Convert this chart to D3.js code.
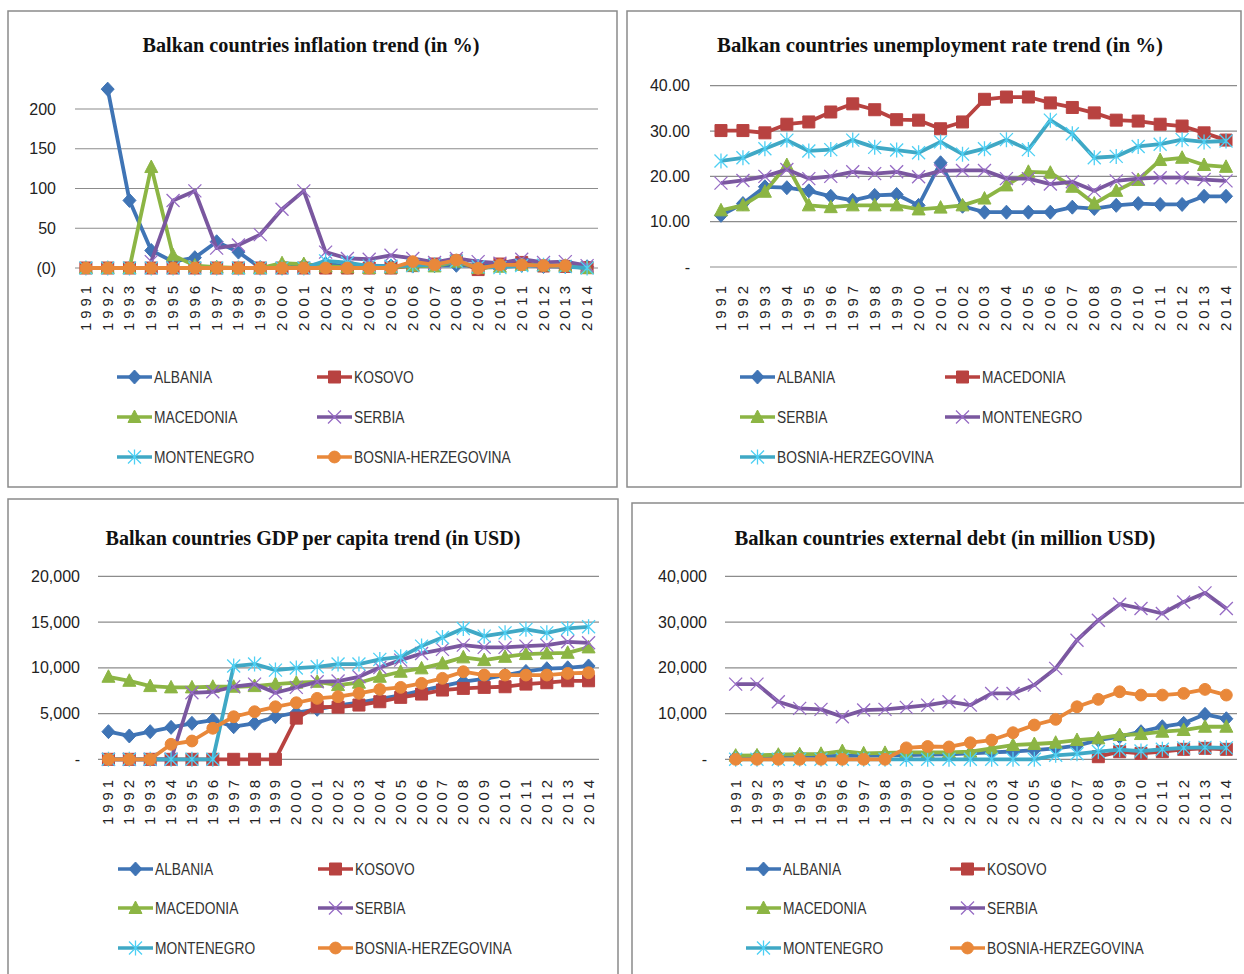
<!DOCTYPE html>
<html>
<head>
<meta charset="utf-8">
<script src="https://cdn.jsdelivr.net/npm/d3@7"></script>
<style>
  body { margin: 0; background: #fff; }
  svg text { font-family: "Liberation Sans", Arial, sans-serif; }
</style>
</head>
<body>
<svg id="chart" width="1244" height="974"></svg>
<script>
// Balkan countries: four small line charts

const years = ['1991','1992','1993','1994','1995','1996','1997','1998','1999','2000','2001','2002',
               '2003','2004','2005','2006','2007','2008','2009','2010','2011','2012','2013','2014'];

// Inflation (in %)
const inflAlbania    = [null,225,85,22,8,13,33,20,0.4,0.1,3.1,5.2,2.4,2.9,2.4,2.4,2.9,3.4,2.3,3.6,3.5,2.0,1.9,1.6];
const inflKosovo     = [0,0,0,0,0,0,0,0,0,0,0,0,0,0,0,3,5,9,-2,5,7,2.5,2,0.4];
const inflMacedonia  = [0,0,0,127,16,3,1,0,0,6,5,2,1,0,0.5,3,2,8,0,1.6,3.9,3.3,2.8,0];
const inflSerbia     = [null,null,null,8,85,97,25,29,42,74,97,20,12,11,16,12,7,12,8,6,11,7,8,3];
const inflMontenegro = [0,0,0,0,0,0,0,0,0,0,0,9,6.7,2.4,2.3,3,4.2,8.5,1.5,0.5,3.1,3.6,1.8,0];
const inflBosnia     = [0,0,0,0,0,0,0,0,0,0,0,0,0,0,0,8,4,10,-0.4,4,4,3,3,null];

// Unemployment rate (in %)
const unAlbania    = [11.4,14.0,17.7,17.5,16.8,15.6,14.7,15.8,16.0,13.6,23.0,13.4,12.1,12.1,12.1,12.1,13.2,12.9,13.6,14.0,13.8,13.8,15.6,15.6];
const unMacedonia  = [30.1,30.1,29.6,31.5,32.0,34.2,36.0,34.7,32.5,32.4,30.5,32.0,37.0,37.5,37.5,36.2,35.2,34.0,32.4,32.2,31.5,31.1,29.6,28.0];
const unSerbia     = [12.5,13.6,16.6,22.5,13.6,13.2,13.6,13.6,13.6,12.7,13.1,13.6,15.1,18.0,21.0,20.8,17.7,14.0,16.8,19.2,23.6,24.1,22.5,22.1];
const unMontenegro = [18.5,19.1,20.0,21.5,19.5,20.0,21.0,20.6,21.0,19.9,21.2,21.3,21.3,19.5,19.5,18.3,18.8,16.8,19.0,19.5,19.7,19.7,19.3,19.0];
const unBosnia     = [23.4,24.1,26.1,28.0,25.6,25.9,28.0,26.4,25.8,25.2,27.6,24.9,26.1,28.1,25.9,32.4,29.4,24.1,24.4,26.6,27.1,28.1,27.6,27.8];

// GDP per capita (in USD)
const gdpAlbania    = [3020,2550,3020,3490,3930,4290,3560,3930,4650,5090,5460,5900,6200,6600,7000,7500,8000,8500,8800,9200,9600,9900,10000,10200];
const gdpKosovo     = [0,0,0,0,0,0,0,0,0,4500,5740,5700,5930,6290,6770,7130,7570,7750,7860,7930,8220,8370,8580,8580];
const gdpMacedonia  = [9020,8580,8000,7860,7860,7930,7930,8000,8220,8370,8470,8110,8370,9020,9570,9940,10480,11140,10840,11200,11500,11570,11640,12230];
const gdpSerbia     = [0,0,0,0,7270,7380,7930,8220,7270,7860,8470,8550,9020,10040,10840,11570,12010,12480,12230,12230,12370,12480,12840,12730];
const gdpMontenegro = [0,0,0,0,0,0,10190,10410,9750,9970,10110,10410,10410,10920,11200,12370,13320,14300,13460,13820,14200,13820,14300,14480];
const gdpBosnia     = [0,0,0,1640,2000,3390,4650,5200,5740,6180,6660,6840,7210,7640,7860,8300,8850,9570,9210,9210,9210,9210,9390,9460];

// External debt (in million USD)
const debtAlbania    = [500,600,700,800,700,750,800,850,900,1000,1100,1300,1500,1700,2000,2400,3000,4210,4940,6030,7120,7860,9820,8860];
const debtKosovo     = [null,null,null,null,null,null,null,null,null,null,null,null,null,null,null,null,null,570,1660,1300,1660,2180,2400,2180];
const debtMacedonia  = [800,850,1000,1100,1200,1800,1300,1400,1500,1500,1500,1660,2400,3120,3340,3620,4210,4580,5300,5520,6030,6400,7120,7120];
const debtSerbia     = [16440,16440,12580,11130,10910,9300,10760,10910,11350,11850,12580,11850,14400,14400,16220,19870,26040,30410,33900,32960,31870,34400,36370,32960];
const debtMontenegro = [0,0,0,0,0,0,0,0,0,0,0,0,0,0,0,870,1200,1700,2100,1800,2200,2500,2600,2500];
const debtBosnia     = [0,0,0,0,0,0,0,0,2500,2800,2700,3620,4210,5810,7490,8730,11480,13100,14760,14040,14040,14400,15280,14040];

// Excel-like series styles, in series order
const styles = [
  {color: '#3f74b5', mark: 'diamond'},
  {color: '#b84240', mark: 'square'},
  {color: '#8cb544', mark: 'triangle'},
  {color: '#7a579f', mark: 'x'},
  {color: '#3fa8c5', mark: 'star'},
  {color: '#e9883a', mark: 'circle'}
];

const svg = d3.select('#chart');

function markerPath(type) {
  switch (type) {
    case 'diamond':  return 'M0,-7L6.5,0L0,7L-6.5,0Z';
    case 'square':   return 'M-6,-6H6V6H-6Z';
    case 'triangle': return 'M0,-7L6.5,5.5L-6.5,5.5Z';
    case 'x':        return 'M-6.5,-6.5L6.5,6.5M-6.5,6.5L6.5,-6.5';
    case 'star':     return 'M-6.5,-6.5L6.5,6.5M-6.5,6.5L6.5,-6.5M0,-7.5V7.5';
    default:         return d3.symbol(d3.symbolCircle, 110)();
  }
}

function drawMarker(g, st) {
  const open = st.mark === 'x' || st.mark === 'star';
  return g.append('path')
    .attr('d', markerPath(st.mark))
    .attr('fill', open ? 'none' : st.color)
    .attr('stroke', open ? d3.color(st.color).brighter(0.6) : st.color)
    .attr('stroke-width', open ? 1.3 : 1);
}

function drawPanel(p) {
  const g = svg.append('g');

  // frame
  g.append('rect')
    .attr('x', p.box[0]).attr('y', p.box[1])
    .attr('width', p.box[2]).attr('height', p.box[3])
    .attr('fill', 'none').attr('stroke', '#8a8a8a').attr('stroke-width', 1.5);

  // title
  g.append('text')
    .attr('x', p.title.x).attr('y', p.title.y)
    .attr('text-anchor', 'middle')
    .attr('textLength', p.title.w).attr('lengthAdjust', 'spacingAndGlyphs')
    .style('font-family', '"Liberation Serif", "Times New Roman", serif')
    .style('font-weight', 'bold').style('font-size', '22px')
    .attr('fill', '#111')
    .text(p.title.text);

  const x = d3.scalePoint().domain(years).range(p.xRange).padding(0.5);
  const y = d3.scaleLinear().domain([0, p.yMax]).range(p.yRange);

  // gridlines + y labels
  p.ticks.forEach(t => {
    g.append('line')
      .attr('x1', p.xRange[0]).attr('x2', p.xRange[1])
      .attr('y1', y(t)).attr('y2', y(t))
      .attr('stroke', '#8c8c8c').attr('stroke-width', 1.2);
    g.append('text')
      .attr('x', p.tickX).attr('y', y(t)).attr('dy', '0.35em')
      .attr('text-anchor', 'end')
      .style('font-size', '16px').attr('fill', '#222')
      .text(p.fmt(t));
  });

  // rotated year labels
  years.forEach(yr => {
    g.append('text')
      .attr('transform', `translate(${x(yr) + 5},${p.labelY}) rotate(-90)`)
      .attr('text-anchor', 'end')
      .attr('textLength', 45).attr('lengthAdjust', 'spacing')
      .style('font-size', '15px').attr('fill', '#222')
      .text(yr);
  });

  // series
  const line = d3.line()
    .defined(d => d.v != null)
    .x(d => x(d.yr)).y(d => y(d.v));

  p.series.forEach(s => {
    const st = styles[s.style];
    const pts = years.map((yr, i) => ({yr, v: s.values[i]}));
    g.append('path')
      .datum(pts)
      .attr('d', line)
      .attr('fill', 'none').attr('stroke', st.color)
      .attr('stroke-width', 3.8).attr('stroke-linejoin', 'round');
    pts.filter(d => d.v != null).forEach(d => {
      drawMarker(g, st).attr('transform', `translate(${x(d.yr)},${y(d.v)})`);
    });
  });

  // legend, two columns
  p.series.forEach((s, i) => {
    const st = styles[s.style];
    const lx = p.legend.cols[i % 2];
    const ly = p.legend.rows[Math.floor(i / 2)];
    const lg = g.append('g').attr('transform', `translate(${lx},${ly})`);
    lg.append('line').attr('x1', 0).attr('x2', 35)
      .attr('stroke', st.color).attr('stroke-width', 3.5);
    drawMarker(lg, st).attr('transform', 'translate(17.5,0)');
    const t = lg.append('text')
      .attr('x', 37).attr('dy', '0.36em')
      .style('font-size', '16px').attr('fill', '#333')
      .text(s.name);
    const w = t.node().getComputedTextLength();
    t.attr('textLength', w * 0.86).attr('lengthAdjust', 'spacingAndGlyphs');
  });
}

const fmtDec = d => d === 0 ? '-' : d3.format('.2f')(d);
const fmtThousands = d => d === 0 ? '-' : d3.format(',')(d);

drawPanel({
  box: [8, 11, 609, 476],
  title: {text: 'Balkan countries inflation trend (in %)', x: 311, y: 52, w: 337},
  xRange: [75, 598], yRange: [268, 109], yMax: 200,
  ticks: [0, 50, 100, 150, 200], fmt: d => d === 0 ? '(0)' : String(d), tickX: 56,
  labelY: 286,
  legend: {cols: [117, 317], rows: [377, 417, 457]},
  series: [
    {name: 'ALBANIA', values: inflAlbania, style: 0},
    {name: 'KOSOVO', values: inflKosovo, style: 1},
    {name: 'MACEDONIA', values: inflMacedonia, style: 2},
    {name: 'SERBIA', values: inflSerbia, style: 3},
    {name: 'MONTENEGRO', values: inflMontenegro, style: 4},
    {name: 'BOSNIA-HERZEGOVINA', values: inflBosnia, style: 5}
  ]
});

drawPanel({
  box: [627, 11, 614, 476],
  title: {text: 'Balkan countries unemployment rate trend  (in %)', x: 940, y: 52, w: 446},
  xRange: [710, 1237], yRange: [267, 85.7], yMax: 40,
  ticks: [0, 10, 20, 30, 40], fmt: fmtDec, tickX: 690,
  labelY: 286,
  legend: {cols: [740, 945], rows: [377, 417, 457]},
  series: [
    {name: 'ALBANIA', values: unAlbania, style: 0},
    {name: 'MACEDONIA', values: unMacedonia, style: 1},
    {name: 'SERBIA', values: unSerbia, style: 2},
    {name: 'MONTENEGRO', values: unMontenegro, style: 3},
    {name: 'BOSNIA-HERZEGOVINA', values: unBosnia, style: 4}
  ]
});

drawPanel({
  box: [8, 499, 610, 490],
  title: {text: 'Balkan countries GDP per capita trend (in USD)', x: 313, y: 545, w: 415},
  xRange: [98, 599], yRange: [759.3, 576.3], yMax: 20000,
  ticks: [0, 5000, 10000, 15000, 20000], fmt: fmtThousands, tickX: 80,
  labelY: 780,
  legend: {cols: [118, 318], rows: [869, 908, 948]},
  series: [
    {name: 'ALBANIA', values: gdpAlbania, style: 0},
    {name: 'KOSOVO', values: gdpKosovo, style: 1},
    {name: 'MACEDONIA', values: gdpMacedonia, style: 2},
    {name: 'SERBIA', values: gdpSerbia, style: 3},
    {name: 'MONTENEGRO', values: gdpMontenegro, style: 4},
    {name: 'BOSNIA-HERZEGOVINA', values: gdpBosnia, style: 5}
  ]
});

drawPanel({
  box: [632, 503, 620, 490],
  title: {text: 'Balkan countries external debt (in million USD)', x: 945, y: 545, w: 421},
  xRange: [725, 1237], yRange: [759.3, 576.3], yMax: 40000,
  ticks: [0, 10000, 20000, 30000, 40000], fmt: fmtThousands, tickX: 707,
  labelY: 780,
  legend: {cols: [746, 950], rows: [869, 908, 948]},
  series: [
    {name: 'ALBANIA', values: debtAlbania, style: 0},
    {name: 'KOSOVO', values: debtKosovo, style: 1},
    {name: 'MACEDONIA', values: debtMacedonia, style: 2},
    {name: 'SERBIA', values: debtSerbia, style: 3},
    {name: 'MONTENEGRO', values: debtMontenegro, style: 4},
    {name: 'BOSNIA-HERZEGOVINA', values: debtBosnia, style: 5}
  ]
});
</script>
</body>
</html>
